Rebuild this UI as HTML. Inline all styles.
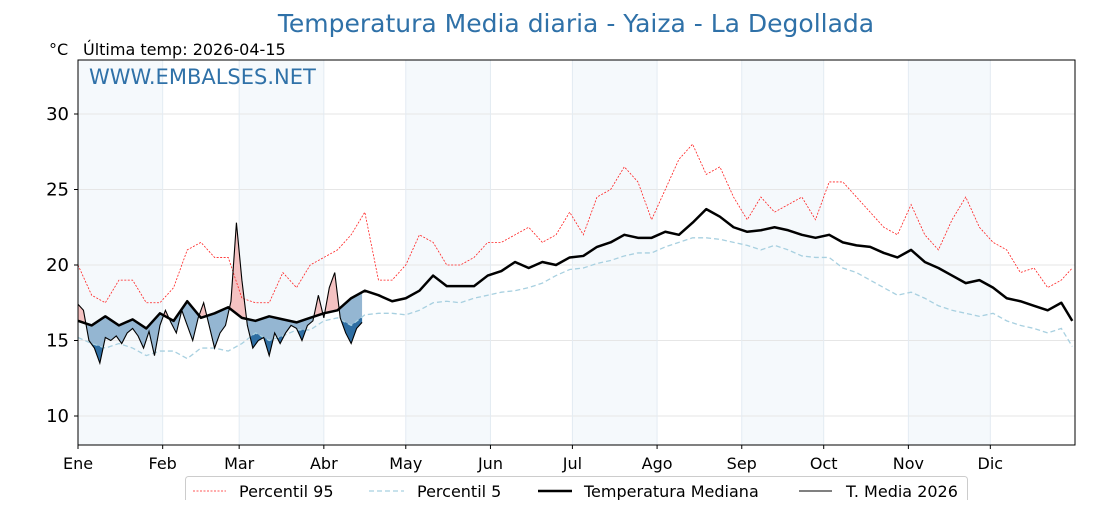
<!DOCTYPE html>
<html><head><meta charset="utf-8"><style>
body{margin:0;background:#fff;font-family:"Liberation Sans","DejaVu Sans",sans-serif}
</style></head><body>
<svg id="chart" width="1120" height="500" xmlns="http://www.w3.org/2000/svg" font-family="DejaVu Sans, Liberation Sans, sans-serif"></svg>
<script>
const months=["Ene","Feb","Mar","Abr","May","Jun","Jul","Ago","Sep","Oct","Nov","Dic"];
const monthStart=[0,31,59,90,120,151,181,212,243,273,304,334];
const yTicks=[10,15,20,25,30];
const days=[0,5,10,15,20,25,30,35,40,45,50,55,60,65,70,75,80,85,90,95,100,105,110,115,120,125,130,135,140,145,150,155,160,165,170,175,180,185,190,195,200,205,210,215,220,225,230,235,240,245,250,255,260,265,270,275,280,285,290,295,300,305,310,315,320,325,330,335,340,345,350,355,360,364];
const median=[16.3,16.0,16.6,16.0,16.4,15.8,16.8,16.3,17.6,16.5,16.8,17.2,16.5,16.3,16.6,16.4,16.2,16.5,16.8,17.0,17.8,18.3,18.0,17.6,17.8,18.3,19.3,18.6,18.6,18.6,19.3,19.6,20.2,19.8,20.2,20.0,20.5,20.6,21.2,21.5,22.0,21.8,21.8,22.2,22.0,22.8,23.7,23.2,22.5,22.2,22.3,22.5,22.3,22.0,21.8,22.0,21.5,21.3,21.2,20.8,20.5,21.0,20.2,19.8,19.3,18.8,19.0,18.5,17.8,17.6,17.3,17.0,17.5,16.3];
const p95=[20,18,17.5,19.0,19.0,17.5,17.5,18.5,21.0,21.5,20.5,20.5,17.8,17.5,17.5,19.5,18.5,20.0,20.5,21.0,22.0,23.5,19.0,19.0,20.0,22.0,21.5,20.0,20.0,20.5,21.5,21.5,22.0,22.5,21.5,22.0,23.5,22.0,24.5,25.0,26.5,25.5,23.0,25.0,27.0,28.0,26.0,26.5,24.5,23.0,24.5,23.5,24.0,24.5,23.0,25.5,25.5,24.5,23.5,22.5,22.0,24.0,22.0,21.0,23.0,24.5,22.5,21.5,21.0,19.5,19.8,18.5,19.0,19.8];
const p5=[15.2,14.8,14.5,14.8,14.5,14.0,14.3,14.3,13.8,14.5,14.5,14.3,14.8,15.5,15.0,15.3,15.7,15.7,16.3,16.5,16.0,16.7,16.8,16.8,16.7,17.0,17.5,17.6,17.5,17.8,18.0,18.2,18.3,18.5,18.8,19.3,19.7,19.8,20.1,20.3,20.6,20.8,20.8,21.2,21.5,21.8,21.8,21.7,21.5,21.3,21.0,21.3,21.0,20.6,20.5,20.5,19.8,19.5,19.0,18.5,18.0,18.2,17.8,17.3,17.0,16.8,16.6,16.8,16.3,16.0,15.8,15.5,15.8,14.6];
const days2026=[0,2,4,6,8,10,12,14,16,18,20,22,24,26,28,30,32,34,36,38,40,42,44,46,48,50,52,54,56,58,60,62,64,66,68,70,72,74,76,78,80,82,84,86,88,90,92,94,96,98,100,102,104];
const t2026=[17.4,17.0,15.0,14.5,13.5,15.2,15.0,15.3,14.8,15.5,15.8,15.3,14.5,15.6,14.0,16.0,17.0,16.2,15.5,17.0,16.0,15.0,16.5,17.5,16.0,14.5,15.5,16.0,17.6,22.8,19.0,16.0,14.5,15.0,15.2,14.0,15.5,14.8,15.5,16.0,15.8,15.0,16.0,16.3,18.0,16.5,18.5,19.5,16.5,15.5,14.8,15.8,16.2];

const svg=document.getElementById('chart');
const NS='http://www.w3.org/2000/svg';
const X0=78,X1=1075,Y0=60,Y1=445;
const xs=d=>X0+d*(X1-X0)/365;
const ys=v=>416-(v-10)*15.1;
function mk(tag,attrs,parent){const e=document.createElementNS(NS,tag);for(const k in attrs)e.setAttribute(k,attrs[k]);(parent||svg).appendChild(e);return e;}
function interp(dd,vv,d){for(let i=0;i<dd.length-1;i++){if(d>=dd[i]&&d<=dd[i+1]){const t=(d-dd[i])/(dd[i+1]-dd[i]);return vv[i]+t*(vv[i+1]-vv[i]);}}return vv[vv.length-1];}

for(let i=0;i<12;i+=2){const end=i+1<12?monthStart[i+1]:365;
const r=mk('rect',{x:xs(monthStart[i]),y:Y0,width:xs(end)-xs(monthStart[i]),height:Y1-Y0,fill:'#f5f9fc'});

}
for(const v of yTicks){const l=mk('line',{x1:X0,x2:X1,y1:ys(v),y2:ys(v),stroke:'#e6e6e6','stroke-width':1});

}
for(const m of monthStart){const l=mk('line',{x1:xs(m),x2:xs(m),y1:Y0,y2:Y1,stroke:'#e3ebf2','stroke-width':1});

}

const last=days2026[days2026.length-1];
const grid=[];for(let d=0;d<=last;d+=0.25)grid.push(d);
function band(upperFn,lowerFn,color,name){
 let top=grid.map(d=>xs(d)+','+ys(upperFn(d)));let bot=grid.slice().reverse().map(d=>xs(d)+','+ys(lowerFn(d)));
 const p=mk('polygon',{points:top.concat(bot).join(' '),fill:color,stroke:'none'});
 
 }
const T=d=>interp(days2026,t2026,d),M=d=>interp(days,median,d),P5=d=>interp(days,p5,d);
band(M,d=>Math.min(T(d),M(d)),'#94b6d2','below-median-fill');
band(P5,d=>Math.min(T(d),P5(d)),'#2e6ea3','below-p5-fill');
band(d=>Math.max(T(d),M(d)),M,'#f4c2c2','above-median-fill');

function line(dd,vv,attrs,name){const p=mk('polyline',Object.assign({points:dd.map((d,i)=>xs(d)+','+ys(vv[i])).join(' '),fill:'none'},attrs));
 
 }
line(days,p95,{stroke:'#ff2020','stroke-width':0.8,'stroke-dasharray':'2,1.5'},'percentile-95-line');
line(days,p5,{stroke:'#a8d0e0','stroke-width':1.3,'stroke-dasharray':'5,3'},'percentile-5-line');
line(days,median,{stroke:'#000','stroke-width':2.5,'stroke-linejoin':'round'},'median-line');
line(days2026,t2026,{stroke:'#000','stroke-width':1.1},'temp-2026-line');

const fr=mk('rect',{x:X0,y:Y0,width:X1-X0,height:Y1-Y0,fill:'none',stroke:'#000','stroke-width':1});


for(const v of yTicks){mk('line',{x1:X0-4,x2:X0,y1:ys(v),y2:ys(v),stroke:'#000'});
const t=mk('text',{x:X0-9,y:ys(v)+6,'text-anchor':'end','font-size':18,fill:'#000'});t.textContent=v;

}
months.forEach((m,i)=>{const x=xs(monthStart[i]);mk('line',{x1:x,x2:x,y1:Y1,y2:Y1+4,stroke:'#000'});
const t=mk('text',{x:x,y:469,'text-anchor':'middle','font-size':16,fill:'#000'});t.textContent=m;

});
</script>
<svg style="position:absolute;left:0;top:0" width="1120" height="500" xmlns="http://www.w3.org/2000/svg" font-family="DejaVu Sans, Liberation Sans, sans-serif">
<text x="576" y="32" text-anchor="middle" font-size="25" fill="#2f71a8">Temperatura Media diaria - Yaiza - La Degollada</text>
<text x="49" y="55" font-size="16">°C</text>
<text x="83" y="55" font-size="16">Última temp: 2026-04-15</text>
<text x="89" y="84" font-size="21" fill="#2f71a8">WWW.EMBALSES.NET</text>
<g>
<rect x="185.5" y="476.5" width="782" height="30" rx="3" fill="#fff" stroke="#ccc"/>
<line x1="193" x2="226" y1="491" y2="491" stroke="#ff2020" stroke-width="0.8" stroke-dasharray="2,1.5"/>
<text x="239" y="497" font-size="16">Percentil 95</text>
<line x1="369" x2="404" y1="491" y2="491" stroke="#a8d0e0" stroke-width="1.3" stroke-dasharray="5,3"/>
<text x="417" y="497" font-size="16">Percentil 5</text>
<line x1="538" x2="572" y1="491" y2="491" stroke="#000" stroke-width="2.5"/>
<text x="584" y="497" font-size="16">Temperatura Mediana</text>
<line x1="799" x2="832" y1="491" y2="491" stroke="#000" stroke-width="1.1"/>
<text x="846" y="497" font-size="16">T. Media 2026</text>
</g>
</svg>
</body></html>
